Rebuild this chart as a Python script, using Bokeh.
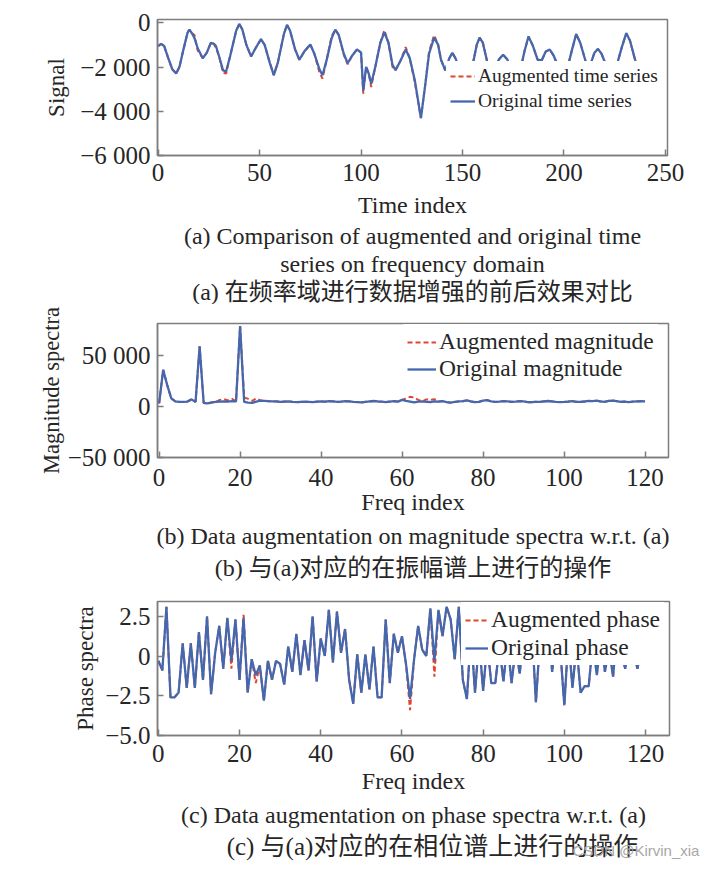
from bokeh.plotting import figure
from bokeh.layouts import column
from bokeh.models import Title, FixedTicker, Legend, LegendItem, Range1d, Label
from bokeh.embed import file_html
from bokeh.resources import INLINE

# ---------------- data: (a) time series (key points) -------------
ts_x = [0, 1.5, 3, 5, 7, 8.9, 10.5, 12.5, 14.5, 15.4, 16.5, 17.9, 19.5, 22, 24, 26, 27.5, 28.5,
        30, 32, 33.5, 35.5, 38.5, 40, 41.5, 43.5, 45.8, 48, 50.7, 52.5, 55, 57, 59, 62, 63.5, 65,
        67.5, 69.6, 72, 75, 77, 79.5, 81, 83, 85.5, 87.3, 89, 91.5, 93.4, 95.5, 98, 100, 101.1,
        102.5, 103.8, 105, 107, 109.5, 111.5, 113.5, 115.5, 117, 119.5, 122, 124, 126.5, 129.5,
        131.5, 133.5, 136, 138, 139.4, 141.5, 143.5, 145, 146.5, 149, 152, 155, 157, 158.4, 160,
        162.5, 165.5, 168, 170, 172, 175, 178, 180.5, 182.5, 184.5, 187, 189, 191, 193, 195, 198,
        201, 204, 206, 208, 211, 213, 215, 216.7, 218.5, 221.5, 225, 228.5, 230.7, 232.5, 235.5]
ts_orig = [-1050, -950, -1050, -1600, -2100, -2290, -2000, -1200, -450, -310, -450, -680, -1150,
           -1600, -1350, -900, -950, -1050, -1500, -2150, -2200, -1500, -350, -50, -300, -1000,
           -1520, -1150, -740, -1000, -1800, -2370, -1800, -500, -90, -350, -1200, -1670, -1300,
           -980, -1400, -2100, -2370, -1700, -700, -310, -550, -1400, -1830, -1500, -1200, -1350,
           -3070, -1990, -2300, -2760, -2000, -900, -430, -900, -1900, -2140, -1700, -1210, -1600,
           -2600, -4310, -2900, -1400, -670, -1000, -1670, -2150, -1600, -1360, -1600, -2200,
           -2400, -1900, -1000, -670, -900, -1900, -2050, -1650, -1440, -1650, -2300, -2350,
           -1300, -620, -1000, -1670, -1700, -1300, -1210, -1500, -2200, -2300, -1200, -510,
           -900, -1850, -1900, -1350, -1180, -1400, -2100, -2250, -1100, -470, -800, -1830]
# augmented series: identical except at these points
ts_aug_at = [17.9, 19.5, 28.5, 32, 33.5, 79.5, 81, 85.5, 91.5, 93.4, 101.1, 105, 111.5, 115.5,
             122, 126.5, 133.5, 136, 235.5]
ts_aug_val = [-550, -1250, -1150, -2250, -2300, -2250, -2520, -600, -1450, -1880, -3200, -2900,
              -330, -2000, -1100, -2700, -1300, -560, -1850]

# ---------------- data: (b) magnitude spectra ----------------
mag_x = list(range(121))
mag_orig = [3000, 36000, 21000, 8000, 5000, 4500, 4500, 4800, 7000, 4500,
            59000, 3500, 3000, 4000, 4500, 4800, 5000, 4800, 5200, 5000,
            79000, 4500, 3800, 3500, 4800, 5800, 5500, 5200, 5000, 5000,
            4500, 4800, 5000, 4500, 4200, 4500, 4800, 4500, 4200, 4800,
            5000, 4700, 5300, 5000, 4600, 4800, 5200, 5000, 4500, 4300,
            4000, 4600, 5000, 5400, 5000, 4700, 4400, 4800, 5200, 4800,
            6500, 5500, 4800, 4000, 4800, 5000, 4500, 4400, 5000, 4800,
            5200, 4300, 3800, 4500, 5000, 5200, 6000, 5000, 4200, 4600,
            5800, 6200, 5000, 4500, 4800, 5300, 5000, 4600, 4800, 5200,
            5000, 4400, 4200, 4600, 4500, 5000, 5400, 5000, 4600, 4300,
            4500, 4800, 5200, 4600, 4500, 4900, 5500, 5300, 5800, 5000,
            4600, 5500, 5800, 5200, 4600, 4800, 4300, 4800, 5000, 5200,
            5000]
mag_aug_at = [15, 16, 17, 18, 21, 22, 23, 24, 61, 62, 63, 64, 66, 67, 68]
mag_aug_val = [6500, 7200, 6000, 7500, 9000, 7500, 5500, 8000, 8000, 9500, 8800, 6500, 7000,
               6500, 7200]

# ---------------- data: (c) phase spectra ----------------
ph_x = list(range(120))
ph_orig = [-0.3, -0.9, 3.1, -2.6, -2.6, -2.3, 0.8, -2.0, 0.8, -2.0,
           1.5, -1.5, 2.5, -2.4, 0.2, 1.9, -0.8, 2.4, -0.3, 2.3,
           -1.5, 2.4, -2.3, -0.2, -1.2, -0.6, -2.8, -0.3, -1.5, -0.3,
           -0.5, -1.8, 0.6, -1.0, 1.4, -1.2, 1.0, -0.9, 2.5, -1.6,
           1.1, 0.0, 2.9, -0.4, 2.8, 0.2, 1.7, -1.5, -3.0, 0.1,
           -2.3, 0.1, -2.1, 0.6, -2.6, -2.6, 2.3, -1.7, 1.4, 0.2,
           1.25, -0.5, -2.7, -0.2, 1.9, 0.4, 0.0, 3.0, -0.3, 2.9,
           1.25, 3.1, 2.3, -0.2, 3.1, -1.5, -2.7, 1.5, -2.3, 1.0,
           -2.2, 0.8, -1.7, -1.7, 0.6, -1.6, 0.9, -1.7, 0.5, -1.1,
           1.2, 0.3, 1.8, -2.9, 1.0, 0.2, 2.0, -1.0, 1.5, 0.4,
           -3.1, 1.2, -2.0, 0.7, -2.3, -1.9, -1.9, 0.8, -1.2, 1.0,
           -1.0, 0.5, -1.3, 1.6, 0.2, -0.8, 1.1, 0.3, -0.8, 0.5]
ph_aug_at = [18, 21, 24, 62, 68]
ph_aug_val = [-0.8, 2.6, -1.7, -3.4, -1.3]

# ---------------- tick labels ----------------
ts_xticks = [0, 50, 100, 150, 200, 250]
ts_yticks = [0, -2000, -4000, -6000]
ts_ylabels = ["0", "\u22122 000", "\u22124 000", "\u22126 000"]
mag_xticks = [0, 20, 40, 60, 80, 100, 120]
mag_yticks = [50000, 0, -50000]
mag_ylabels = ["50 000", "0", "\u221250 000"]
ph_xticks = [0, 20, 40, 60, 80, 100, 120]
ph_yticks = [2.5, 0, -2.5, -5.0]
ph_ylabels = ["2.5", "0", "\u22122.5", "\u22125.0"]

captions_a = ["(a) Comparison of augmented and original time",
              "series on frequency domain",
              "(a) 在频率域进行数据增强的前后效果对比"]
captions_b = ["(b) Data augmentation on magnitude spectra w.r.t. (a)",
              "(b) 与(a)对应的在振幅谱上进行的操作"]
captions_c = ["(c) Data augmentation on phase spectra w.r.t. (a)",
              "(c) 与(a)对应的在相位谱上进行的操作"]
watermark = "CSDN @Kirvin_xia"

# ---------------- styling ----------------
SERIF = "Liberation Serif"
CJK = "Liberation Serif, Noto Sans CJK SC"
TXT = "#262626"
AX = "#7d7d7d"
BLUE = "#4467ae"
RED = "#e2452f"
TICK_FS = "25px"
LAB_FS = "24px"
CAP_FS = "24px"


def with_overrides(xs, ys, at, vals):
    d = dict(zip(at, vals))
    return [d.get(x, y) for x, y in zip(xs, ys)]


def make_fig(xr, yr, fw, fh, left, top, bottom, right):
    p = figure(x_range=Range1d(*xr), y_range=Range1d(*yr), frame_width=fw, frame_height=fh,
               min_border_left=left, min_border_top=top, min_border_bottom=bottom,
               min_border_right=right, output_backend="svg", toolbar_location=None)
    p.grid.visible = False
    p.outline_line_color = AX
    p.outline_line_width = 1.5
    p.background_fill_color = "white"
    p.border_fill_color = "white"
    return p


def style_axes(p, xticks, yticks, ylabels, xlabel, ylabel, xtick_so, xlab_so, ylab_so, ylab_fs):
    for ax in (p.xaxis[0], p.yaxis[0]):
        ax.axis_line_color = AX
        ax.axis_line_width = 1.5
        ax.major_tick_in = 6
        ax.major_tick_out = 0
        ax.major_tick_line_color = AX
        ax.major_tick_line_width = 1.5
        ax.minor_tick_line_color = None
        ax.major_label_text_font = SERIF
        ax.major_label_text_font_size = TICK_FS
        ax.major_label_text_color = TXT
        ax.axis_label_text_font = SERIF
        ax.axis_label_text_font_size = LAB_FS
        ax.axis_label_text_font_style = "normal"
        ax.axis_label_text_color = TXT
    p.yaxis[0].axis_label_text_font_size = ylab_fs
    p.xaxis[0].ticker = FixedTicker(ticks=xticks)
    p.yaxis[0].ticker = FixedTicker(ticks=yticks)
    p.yaxis[0].major_label_overrides = {t: s for t, s in zip(yticks, ylabels)}
    p.xaxis[0].axis_label = xlabel
    p.yaxis[0].axis_label = ylabel
    p.xaxis[0].major_label_standoff = xtick_so
    p.xaxis[0].axis_label_standoff = xlab_so
    p.yaxis[0].major_label_standoff = 7
    p.yaxis[0].axis_label_standoff = ylab_so


def add_legend(p, r_aug, r_orig, lab_aug, lab_orig, loc, fs, glyph_w, row_h, spacing):
    leg = Legend(items=[LegendItem(label=lab_aug, renderers=[r_aug]),
                        LegendItem(label=lab_orig, renderers=[r_orig])],
                 location=loc, label_text_font=SERIF, label_text_font_size=fs,
                 label_text_color=TXT, glyph_width=glyph_w, glyph_height=row_h,
                 label_height=row_h, label_standoff=3, spacing=spacing, padding=4,
                 margin=0, border_line_alpha=0, background_fill_color="white",
                 background_fill_alpha=1.0)
    p.add_layout(leg)


def add_captions(p, lines, standoffs):
    for t, so in zip(lines, standoffs):
        p.add_layout(Title(text=t, align="center", text_font=CJK, text_font_size=CAP_FS,
                           text_font_style="normal", text_color=TXT, standoff=so),
                     "below")


# ---------------- (a) ----------------
p1 = make_fig((-0.3, 251.0), (-6000, 150), 510, 136, 156, 19, 149, 34)
ts_aug = with_overrides(ts_x, ts_orig, ts_aug_at, ts_aug_val)
r1a = p1.line(ts_x, ts_aug, color=RED, line_width=2, line_dash="5 3")
r1o = p1.line(ts_x, ts_orig, color=BLUE, line_width=2.3)
style_axes(p1, ts_xticks, ts_yticks, ts_ylabels, "Time index", "Signal", 8, 8, 8, "23px")
add_legend(p1, r1a, r1o, "Augmented time series", "Original time series", (289, 39),
           "19.5px", 25, 22, 3)
add_captions(p1, captions_a, [0, 0, 0])

# ---------------- (b) ----------------
p2 = make_fig((-0.4, 125.8), (-50000, 81400), 511, 134, 157, 19, 130, 34)
mag_aug = with_overrides(mag_x, mag_orig, mag_aug_at, mag_aug_val)
r2a = p2.line(mag_x, mag_aug, color=RED, line_width=2, line_dash="5 3")
r2o = p2.line(mag_x, mag_orig, color=BLUE, line_width=2.3)
style_axes(p2, mag_xticks, mag_yticks, mag_ylabels, "Freq index", "Magnitude spectra",
           11, 0, 1, "22.5px")
add_legend(p2, r2a, r2o, "Augmented magnitude", "Original magnitude", (246, 71),
           "23.5px", 29, 24, 0)
add_captions(p2, captions_b, [7, 1])

# ---------------- (c) ----------------
p3 = make_fig((-0.2, 125.9), (-5.0, 3.43), 512, 134, 156, 14, 95, 34)
ph_aug = with_overrides(ph_x, ph_orig, ph_aug_at, ph_aug_val)
r3a = p3.line(ph_x, ph_aug, color=RED, line_width=2, line_dash="5 3")
r3o = p3.line(ph_x, ph_orig, color=BLUE, line_width=2.3)
style_axes(p3, ph_xticks, ph_yticks, ph_ylabels, "Freq index", "Phase spectra", 9, 3, 4, "23px")
add_legend(p3, r3a, r3o, "Augmented phase", "Original phase", (304, 70),
           "23.5px", 23, 26, 1)
add_captions(p3, captions_c[:1], [7])

# last caption line and the watermark share one strip below panel (c);
# its frame starts where the other frames start, and spans 544 px
p4 = figure(frame_width=544, frame_height=31, x_range=Range1d(0, 544), y_range=Range1d(0, 31),
            min_border_left=156, min_border_right=0, min_border_top=0, min_border_bottom=0,
            output_backend="svg", toolbar_location=None)
p4.axis.visible = False
p4.grid.visible = False
p4.outline_line_color = None
p4.border_fill_color = "white"
p4.add_layout(Label(x=275, y=16, text=captions_c[1], text_font=CJK, text_font_size="25px",
                    text_color=TXT, text_align="center", text_baseline="middle"))
p4.add_layout(Label(x=415, y=12, text=watermark, text_font="Liberation Sans",
                    text_font_size="15px", text_color="#a8a8a8", text_baseline="middle"))

layout = column(p1, p2, p3, p4, spacing=0)
open("out.html", "w").write(file_html(layout, INLINE))
